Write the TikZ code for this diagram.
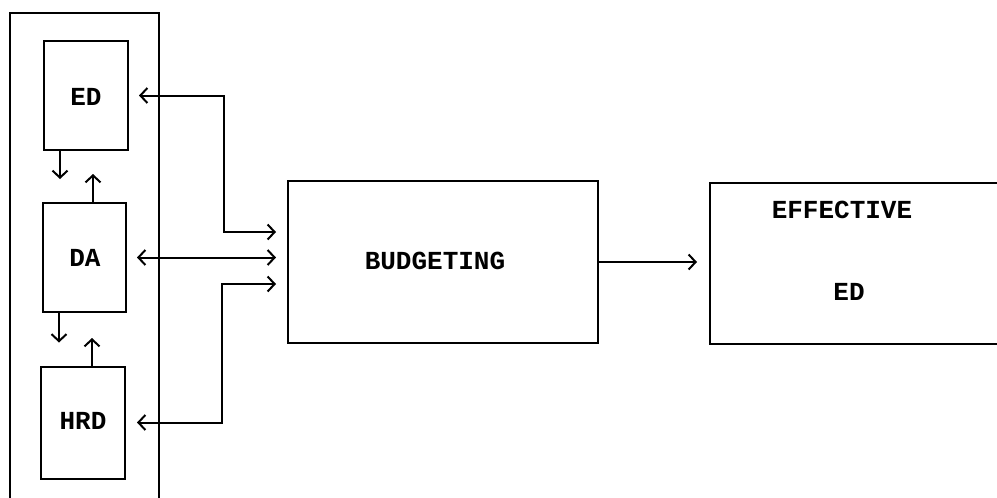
\documentclass[tikz,border=0pt]{standalone}
\usepackage{fontspec}
\setmainfont{Liberation Mono}
\usetikzlibrary{arrows.meta}
\tikzset{
  box/.style={draw, line width=2pt, rectangle, inner sep=0pt},
  lbl/.style={font=\fontsize{26}{30}\selectfont\bfseries, inner sep=0pt},
  conn/.style={line width=2pt, arrows={-Straight Barb[length=7pt,width=15pt,line width=2pt]}},
  biconn/.style={line width=2pt, arrows={Straight Barb[length=7pt,width=15pt,line width=2pt]-Straight Barb[length=7pt,width=15pt,line width=2pt]}}
}
\begin{document}
\begin{tikzpicture}[x=1pt,y=-1pt]
\useasboundingbox (0,0) rectangle (997,498);
\clip (0,0) rectangle (997,498);
\fill[white] (0,0) rectangle (997,498);
% outer frame (open at the bottom of the picture)
\node[box, minimum width=149pt, minimum height=510pt] (frame) at (84.5,268) {};
% departments
\node[box, minimum width=84pt, minimum height=109pt] (ed) at (86,95.5) {};
\node[lbl] (edt) at (86,97) {ED};
\node[box, minimum width=83pt, minimum height=109pt] (da) at (84.5,257.5) {};
\node[lbl] (dat) at (85,258) {DA};
\node[box, minimum width=84pt, minimum height=112pt] (hrd) at (83,422.5) {};
\node[lbl] (hrdt) at (83,421) {HRD};
% budgeting
\node[box, minimum width=310pt, minimum height=162pt] (bud) at (443,262) {};
\node[lbl] (budt) at (435,261) {BUDGETING};
% effective ED (runs off the right edge)
\node[box, minimum width=320pt, minimum height=161pt] (eff) at (870,263.5) {};
\node[lbl] (efft1) at (842,210) {EFFECTIVE};
\node[lbl] (efft2) at (849,292) {ED};
% junction coordinates
\coordinate (j1) at (224,232);
\coordinate (j3) at (222,284);
% small vertical arrows between departments
\draw[conn, shorten >=23pt] (ed.south -| 60,0) -- (da.north -| 60,0);
\draw[conn, shorten >=23pt] (da.north -| 93,0) -- (ed.south -| 93,0);
\draw[conn, shorten >=23pt] (da.south -| 59,0) -- (hrd.north -| 59,0);
\draw[conn, shorten >=25pt] (hrd.north -| 92,0) -- (da.south -| 92,0);
% links to budgeting
\draw[biconn, shorten <=10pt, shorten >=11pt] (ed.east) -| (j1) -- (j1 -| bud.west);
\draw[biconn, shorten <=10pt, shorten >=11pt] (da.east) -- (da.east -| bud.west);
\draw[biconn, shorten <=11pt, shorten >=11pt] (hrd.east) -| (j3) -- (j3 -| bud.west);
% budgeting to effective
\draw[conn, shorten >=12pt] (bud.east) -- (bud.east -| eff.west);
\end{tikzpicture}
\end{document}
